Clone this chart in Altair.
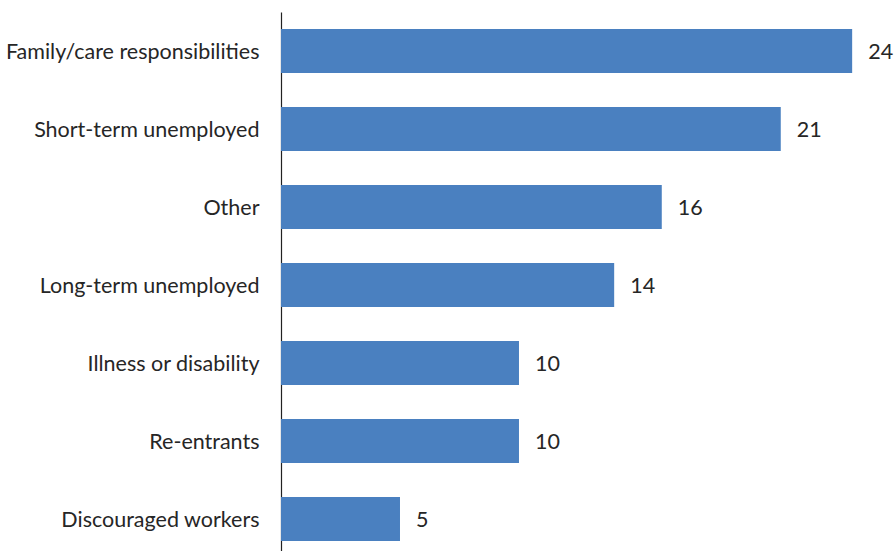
import altair as alt
import pandas as pd

categories = ["Family/care responsibilities", "Short-term unemployed", "Other",
              "Long-term unemployed", "Illness or disability ", "Re-entrants",
              "Discouraged workers"]
values = [24, 21, 16, 14, 10, 10, 5]

df = pd.DataFrame({"cat": categories, "val": values})

y = alt.Y("cat:N", sort=categories, title=None,
          scale=alt.Scale(range=[0, 546], paddingInner=0.436, paddingOuter=0.218),
          axis=alt.Axis(ticks=False, domain=True, domainColor="#222222", domainWidth=1.2,
                        labelFont="Lato", labelFontSize=21.5, labelColor="#262626",
                        labelPadding=22, labelLimit=300, labelBaseline="middle", labelOffset=2))
x = alt.X("val:Q", scale=alt.Scale(domain=[0, 25.8], nice=False, zero=True),
          axis=None, title=None)

bars = alt.Chart(df).mark_bar(color="#4A80C0").encode(x=x, y=y)
text = alt.Chart(df).mark_text(align="left", baseline="middle", dx=16, dy=2,
                               font="Lato", fontSize=21.5, color="#262626").encode(
    x=x, y=alt.Y("cat:N", sort=categories), text="val:Q")

chart = (bars + text).properties(
    width=614, height=539,
    padding={"left": 281, "top": 12, "right": 1, "bottom": 0},
    autosize=alt.AutoSizeParams(type="none"),
).configure(background="white", view=alt.ViewConfig(stroke=None))

chart.save("out.html", embed_options={"renderer": "svg", "actions": False})
